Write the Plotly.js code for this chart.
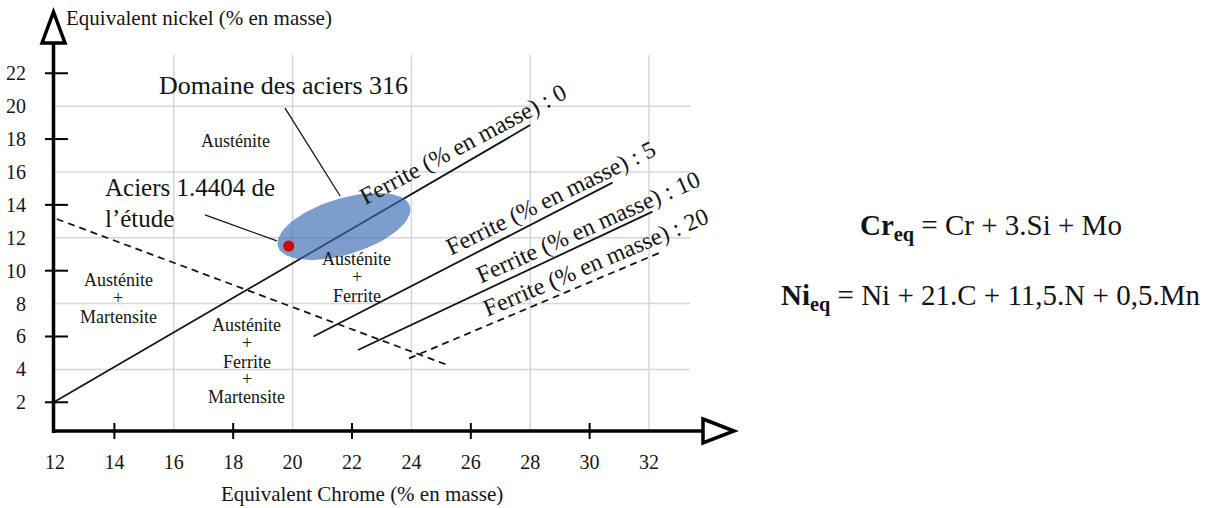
<!DOCTYPE html>
<html><head><meta charset="utf-8">
<script src="https://cdn.plot.ly/plotly-3.0.1.min.js"></script>
<style>html,body{margin:0;padding:0;background:#fff}</style>
</head><body><div id="chart" style="width:1212px;height:508px"></div>
<script>
// ---------------- data ----------------
const xTickVals = [12, 14, 16, 18, 20, 22, 24, 26, 28, 30, 32];
const yTickVals = [2, 4, 6, 8, 10, 12, 14, 16, 18, 20, 22];
const xGridVals = [16, 20, 24, 28, 32];
const yGridVals = [4, 8, 12, 16, 20];
const xMarkVals = [14, 18, 22, 26, 30];
const yMarkVals = [2, 6, 10, 14, 18, 22];

const ferrite0Cr = [12.0, 28.0];   const ferrite0Ni = [2.05, 18.85];
const ferrite5Cr = [20.7, 30.77];  const ferrite5Ni = [6.0, 15.35];
const ferrite10Cr = [22.2, 32.12]; const ferrite10Ni = [5.18, 13.59];
const ferrite20Cr = [23.92, 32.45]; const ferrite20Ni = [4.67, 11.16];
const martensiteCr = [12.06, 25.21]; const martensiteNi = [13.14, 4.27];
const etudeCr = [19.87]; const etudeNi = [11.50];
const domaine316Cr = 21.73; const domaine316Ni = 12.69;
const domainePointerCr = [19.74, 21.60]; const domainePointerNi = [19.89, 14.54];
const etudePointerCr = [17.05, 19.47];   const etudePointerNi = [13.39, 11.81];

const ferriteLabels = ['Ferrite (% en masse) : 0', 'Ferrite (% en masse) : 5',
  'Ferrite (% en masse) : 10', 'Ferrite (% en masse) : 20'];

// ---------------- layout geometry ----------------
const W = 1212, H = 508, M = {l: 55, r: 522, t: 55, b: 77};
const xRange = [12, 33.38], yRange = [0.255, 23.11];
const pw = W - M.l - M.r, ph = H - M.t - M.b;
const kx = pw / (xRange[1] - xRange[0]), ky = ph / (yRange[1] - yRange[0]);
const PX = p => (p - M.l) / pw;          // pixel x -> paper
const PY = p => (H - M.b - p) / ph;      // pixel y -> paper

const SERIF = 'Liberation Serif, Times New Roman, serif';
const INK = '#141414';

// ellipse (domain of 316 steels), size in pixels
const ELL_A = 69, ELL_B = 28, ELL_TILT = 17 * Math.PI / 180;
const ellCr = [], ellNi = [];
for (let i = 0; i <= 90; i++) {
  const t = i / 90 * 2 * Math.PI;
  const dx = ELL_A * Math.cos(t) * Math.cos(ELL_TILT) - ELL_B * Math.sin(t) * Math.sin(ELL_TILT);
  const dy = ELL_A * Math.cos(t) * Math.sin(ELL_TILT) + ELL_B * Math.sin(t) * Math.cos(ELL_TILT);
  ellCr.push(domaine316Cr + dx / kx); ellNi.push(domaine316Ni + dy / ky);
}

const solid = {color: INK, width: 1.8};
const dashed = {color: INK, width: 1.8, dash: '7px,5px'};
const traces = [
  {x: ferrite0Cr, y: ferrite0Ni, mode: 'lines', line: solid},
  {x: ferrite5Cr, y: ferrite5Ni, mode: 'lines', line: solid},
  {x: ferrite10Cr, y: ferrite10Ni, mode: 'lines', line: solid},
  {x: ferrite20Cr, y: ferrite20Ni, mode: 'lines', line: dashed},
  {x: martensiteCr, y: martensiteNi, mode: 'lines', line: dashed},
  {x: ellCr, y: ellNi, mode: 'lines', fill: 'toself', line: {width: 0},
   fillcolor: 'rgba(54,105,178,0.65)'},
  {x: etudeCr, y: etudeNi, mode: 'markers', marker: {size: 11, color: '#d60000'}}
];
traces.forEach(t => { t.type = 'scatter'; t.hoverinfo = 'skip'; t.showlegend = false; });

// ---------------- shapes ----------------
const shapes = [];
xGridVals.forEach(v => shapes.push({type: 'line', xref: 'x', yref: 'paper', x0: v, x1: v, y0: 0, y1: 1,
  line: {color: '#d6d6d6', width: 1.5}, layer: 'below'}));
yGridVals.forEach(v => shapes.push({type: 'line', xref: 'paper', yref: 'y', x0: 0, x1: 1, y0: v, y1: v,
  line: {color: '#d6d6d6', width: 1.5}, layer: 'below'}));
// axis lines
shapes.push({type: 'line', xref: 'paper', yref: 'paper', x0: PX(53.5), x1: PX(53.5), y0: PY(433), y1: PY(43),
  line: {color: '#000', width: 3.5}});
shapes.push({type: 'line', xref: 'paper', yref: 'paper', x0: PX(52), x1: PX(703), y0: PY(431), y1: PY(431),
  line: {color: '#000', width: 3.5}});
// arrow heads (open triangles)
shapes.push({type: 'path', xref: 'paper', yref: 'paper',
  path: `M ${PX(42)} ${PY(43)} L ${PX(53.5)} ${PY(12)} L ${PX(65)} ${PY(43)} Z`,
  line: {color: '#000', width: 3.5}, fillcolor: 'rgba(255,255,255,1)'});
shapes.push({type: 'path', xref: 'paper', yref: 'paper',
  path: `M ${PX(703)} ${PY(419)} L ${PX(734)} ${PY(431)} L ${PX(703)} ${PY(443)} Z`,
  line: {color: '#000', width: 3.5}, fillcolor: 'rgba(255,255,255,1)'});
// tick marks
xMarkVals.forEach(v => shapes.push({type: 'line', xref: 'x', yref: 'paper', x0: v, x1: v,
  y0: PY(423), y1: PY(439), line: {color: '#000', width: 2}}));
yMarkVals.forEach(v => shapes.push({type: 'line', xref: 'paper', yref: 'y', x0: PX(45), x1: PX(68),
  y0: v, y1: v, line: {color: '#000', width: 2}}));
// pointer lines
shapes.push({type: 'line', xref: 'x', yref: 'y', x0: domainePointerCr[0], x1: domainePointerCr[1],
  y0: domainePointerNi[0], y1: domainePointerNi[1], line: {color: INK, width: 1.3}});
shapes.push({type: 'line', xref: 'x', yref: 'y', x0: etudePointerCr[0], x1: etudePointerCr[1],
  y0: etudePointerNi[0], y1: etudePointerNi[1], line: {color: INK, width: 1.3}});

// ---------------- annotations ----------------
const ann = [];
const txt = (text, x, y, size, extra) => ann.push(Object.assign({text, x, y, xref: 'x', yref: 'y',
  showarrow: false, xanchor: 'center', yanchor: 'middle', font: {family: SERIF, size, color: INK}}, extra || {}));

txt('Austénite', 18.09, 17.88, 18);
[['Austénite', 10.71], ['+', 9.59], ['Ferrite', 8.46]].forEach(([t, y]) => txt(t, 22.16, y, 18));
[['Austénite', 9.43], ['+', 8.32], ['Martensite', 7.17]].forEach(([t, y]) => txt(t, 14.13, y, 18));
[['Austénite', 6.70], ['+', 5.62], ['Ferrite', 4.47], ['+', 3.40], ['Martensite', 2.30]]
  .forEach(([t, y]) => txt(t, 18.46, y, 18));

txt('Domaine des aciers 316', 19.71, 21.23, 26);
txt('Aciers 1.4404 de', 13.6, 15.03, 25, {xanchor: 'left'});
txt('l’étude', 13.6, 13.2, 25, {xanchor: 'left'});

const ferritePos = [[25.75, 17.71, -28], [28.69, 14.40, -26], [29.95, 12.68, -24], [30.23, 10.50, -23]];
ferriteLabels.forEach((t, i) => txt(t, ferritePos[i][0], ferritePos[i][1], 24, {textangle: ferritePos[i][2]}));

const ptxt = (text, x, y, size, extra) => ann.push(Object.assign({text, x, y, xref: 'paper', yref: 'paper',
  showarrow: false, xanchor: 'center', yanchor: 'middle', font: {family: SERIF, size, color: INK}}, extra || {}));
ptxt('Equivalent nickel (% en masse)', PX(64), PY(18), 21, {xanchor: 'left'});
ptxt('Equivalent Chrome (% en masse)', PX(362), PY(494), 21);
ptxt('<b>Cr<sub>eq</sub></b> = Cr + 3.Si + Mo', PX(991), PY(227), 29);
ptxt('<b>Ni<sub>eq</sub></b> = Ni + 21.C + 11,5.N + 0,5.Mn', PX(990), PY(297), 29);

const axisCommon = {showgrid: false, zeroline: false, showline: false, ticks: 'outside',
  tickcolor: 'rgba(0,0,0,0)', tickfont: {family: SERIF, size: 20, color: INK}, fixedrange: true};

const layout = {
  width: W, height: H, margin: M, paper_bgcolor: '#fff', plot_bgcolor: 'rgba(0,0,0,0)',
  showlegend: false,
  xaxis: Object.assign({}, axisCommon, {range: xRange, tickmode: 'array', tickvals: xTickVals,
    ticktext: xTickVals.map(String), ticklen: 13}),
  yaxis: Object.assign({}, axisCommon, {range: yRange, tickmode: 'array', tickvals: yTickVals,
    ticktext: yTickVals.map(String), ticklen: 24}),
  shapes, annotations: ann
};
Plotly.newPlot('chart', traces, layout, {staticPlot: true, displayModeBar: false});
</script></body></html>
